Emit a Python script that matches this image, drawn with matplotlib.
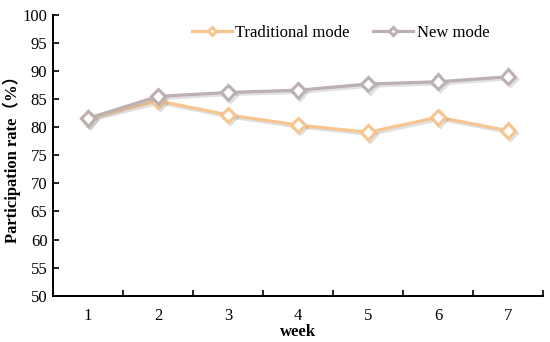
import matplotlib
matplotlib.use("Agg")
import matplotlib.pyplot as plt
import matplotlib.patheffects as pe

weeks = [1, 2, 3, 4, 5, 6, 7]
traditional = [81.6, 84.7, 82.2, 80.4, 79.1, 81.8, 79.4]
new_mode = [81.6, 85.5, 86.2, 86.6, 87.7, 88.1, 89.0]
yticks = [50, 55, 60, 65, 70, 75, 80, 85, 90, 95, 100]

c_trad = '#F8C490'
c_new = '#BDB0B1'

plt.rcParams['font.family'] = ['Liberation Serif', 'Noto Sans CJK SC']

fig = plt.figure(figsize=(5.5, 3.42), dpi=100)
ax = fig.add_axes([53/550, (342-295.7)/342, (543-53)/550, (295.7-15)/342])

shadow = [pe.SimpleLineShadow(offset=(1.5, -1.5), shadow_color='#999999', alpha=0.3), pe.Normal()]

ax.plot(weeks, traditional, color=c_trad, lw=2.3, marker='D', ms=7.5,
        mfc='white', mec=c_trad, mew=2.2, label='Traditional mode', path_effects=shadow, zorder=3)
ax.plot(weeks, new_mode, color=c_new, lw=2.3, marker='D', ms=7.5,
        mfc='white', mec=c_new, mew=2.2, label='New mode', path_effects=shadow, zorder=4)

ax.set_xlim(0.5, 7.5)
ax.set_ylim(50, 100)
ax.set_yticks(yticks)
ax.set_xticks(weeks)
ax.set_xticks([w + 0.5 for w in [0] + weeks], minor=True)
ax.tick_params(axis='x', which='major', length=0, pad=9, labelsize=12)
ax.tick_params(axis='x', which='minor', length=4, width=1.2, direction='in')
ax.tick_params(axis='y', length=4, width=1.2, direction='in', labelsize=12, pad=4)

for s in ['top', 'right']:
    ax.spines[s].set_visible(False)
for s in ['left', 'bottom']:
    ax.spines[s].set_linewidth(1.4)

ax.set_xlabel('week', fontsize=12, fontweight='bold', labelpad=0)
ax.set_ylabel('Participation rate（%）', fontsize=12, fontweight='bold', labelpad=1)

leg = ax.legend(loc='center', bbox_to_anchor=(0.587, 0.936), ncol=2, frameon=False,
                fontsize=12, handlelength=2.4, columnspacing=1.4, handletextpad=0.2,
                markerscale=0.6)
for h in leg.get_lines():
    h.set_path_effects([])

fig.savefig('out.png', dpi=100)
